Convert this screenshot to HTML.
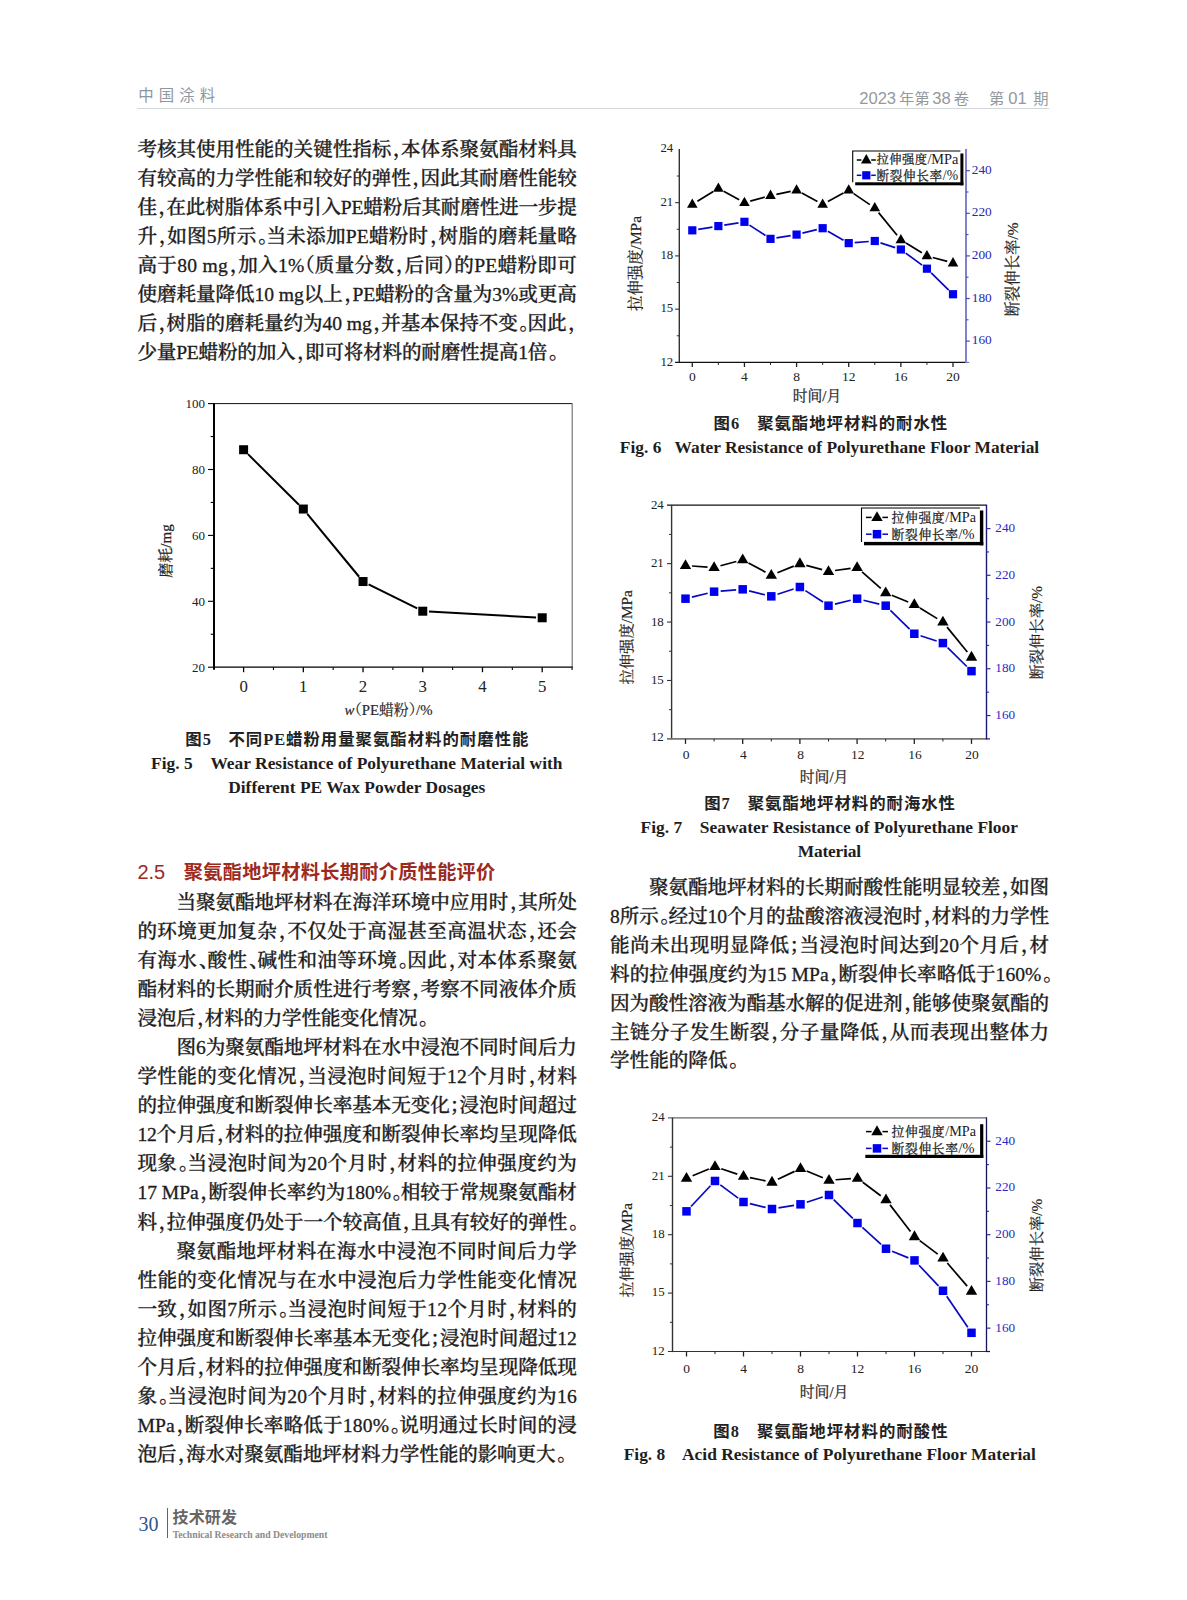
<!DOCTYPE html>
<html lang="zh"><head><meta charset="utf-8"><title>中国涂料 2023年第38卷 第01期</title>
<style>
html,body{margin:0;padding:0;background:#fff}
#pg{position:relative;width:1187px;height:1600px;overflow:hidden;background:#fff;font-family:"Liberation Serif","Noto Serif CJK SC",serif;color:#1c1c1c}
#pg div{position:absolute;white-space:nowrap}
.l{height:29px;line-height:29px;font-size:19.6px;font-weight:500;-webkit-text-stroke:0.3px #1c1c1c}
.p{font-feature-settings:"halt" 1;position:relative;left:1.8px}
.q{font-feature-settings:"halt" 1}
.hd{font-family:"Liberation Sans","Noto Sans CJK SC",sans-serif}
.cc{height:24px;line-height:24px;font-family:"Liberation Serif","Noto Sans CJK SC",sans-serif;font-size:16.4px;font-weight:700;color:#222}
.ce{height:24px;line-height:24px;font-family:"Liberation Serif",serif;font-size:17.4px;font-weight:700;color:#1e1e1e}
.g{display:inline-block}
.hc{font-size:15.3px}
svg text{font-family:"Liberation Serif","Noto Serif CJK SC",serif}
</style></head>
<body><div id="pg">
<div class="hd" style="left:138.2px;top:85px;height:22px;line-height:22px;font-size:15.4px;letter-spacing:5.1px;color:#8d979f">中国涂料</div>
<div class="hd" style="left:859.2px;top:87.6px;height:22px;line-height:22px;font-size:16.6px;color:#94999e">2023<span class="hc" style="margin:0 2.6px 0 3px">年第</span>38<span class="hc" style="margin:0 0 0 3.0px">卷</span><span class="g" style="width:19.9px"></span><span class="hc">第</span><span style="word-spacing:-0.7px"> </span>01<span style="word-spacing:2.0px"> </span><span class="hc">期</span></div>
<div style="left:137px;top:107.5px;width:912px;height:1.2px;background:#d3d7da"></div>
<div class="l" style="left:137.4px;top:134.7px;letter-spacing:-0.066px;"><span id="L0">考核其使用性能的关键性指标<span class="p">，</span>本体系聚氨酯材料具</span></div>
<div class="l" style="left:137.4px;top:163.7px;letter-spacing:-0.066px;"><span id="L1">有较高的力学性能和较好的弹性<span class="p">，</span>因此其耐磨性能较</span></div>
<div class="l" style="left:137.4px;top:192.7px;letter-spacing:-0.206px;"><span id="L2">佳<span class="p">，</span>在此树脂体系中引入PE蜡粉后其耐磨性进一步提</span></div>
<div class="l" style="left:137.4px;top:221.7px;letter-spacing:0.211px;"><span id="L3">升<span class="p">，</span>如图5所示<span class="p">。</span>当未添加PE蜡粉时<span class="p">，</span>树脂的磨耗量略</span></div>
<div class="l" style="left:137.4px;top:250.7px;letter-spacing:0.288px;"><span id="L4">高于80 mg<span class="p">，</span>加入1%<span class="q">（</span>质量分数<span class="p">，</span>后同<span class="q">）</span>的PE蜡粉即可</span></div>
<div class="l" style="left:137.4px;top:279.7px;letter-spacing:-0.077px;"><span id="L5">使磨耗量降低10 mg以上<span class="p">，</span>PE蜡粉的含量为3%或更高</span></div>
<div class="l" style="left:137.4px;top:308.7px;letter-spacing:-0.100px;"><span id="L6">后<span class="p">，</span>树脂的磨耗量约为40 mg<span class="p">，</span>并基本保持不变<span class="p">。</span>因此<span class="p">，</span></span></div>
<div class="l" style="left:137.4px;top:337.7px;letter-spacing:-0.215px;"><span id="L7">少量PE蜡粉的加入<span class="p">，</span>即可将材料的耐磨性提高1倍<span class="p">。</span></span></div>
<div class="l" style="left:176.4px;top:887.5px;letter-spacing:-0.064px;"><span id="L8">当聚氨酯地坪材料在海洋环境中应用时<span class="p">，</span>其所处</span></div>
<div class="l" style="left:137.4px;top:916.6px;letter-spacing:0.379px;"><span id="L9">的环境更加复杂<span class="p">，</span>不仅处于高湿甚至高温状态<span class="p">，</span>还会</span></div>
<div class="l" style="left:137.4px;top:945.7px;letter-spacing:0.362px;"><span id="L10">有海水<span class="p">、</span>酸性<span class="p">、</span>碱性和油等环境<span class="p">。</span>因此<span class="p">，</span>对本体系聚氨</span></div>
<div class="l" style="left:137.4px;top:974.8px;letter-spacing:-0.066px;"><span id="L11">酯材料的长期耐介质性进行考察<span class="p">，</span>考察不同液体介质</span></div>
<div class="l" style="left:137.4px;top:1003.9px;letter-spacing:-0.280px;"><span id="L12">浸泡后<span class="p">，</span>材料的力学性能变化情况<span class="p">。</span></span></div>
<div class="l" style="left:176.4px;top:1033.0px;letter-spacing:-0.064px;"><span id="L13">图6为聚氨酯地坪材料在水中浸泡不同时间后力</span></div>
<div class="l" style="left:137.4px;top:1062.0px;letter-spacing:0.362px;"><span id="L14">学性能的变化情况<span class="p">，</span>当浸泡时间短于12个月时<span class="p">，</span>材料</span></div>
<div class="l" style="left:137.4px;top:1091.1px;letter-spacing:-0.066px;"><span id="L15">的拉伸强度和断裂伸长率基本无变化<span class="q">；</span>浸泡时间超过</span></div>
<div class="l" style="left:137.4px;top:1120.2px;letter-spacing:-0.063px;"><span id="L16">12个月后<span class="p">，</span>材料的拉伸强度和断裂伸长率均呈现降低</span></div>
<div class="l" style="left:137.4px;top:1149.3px;letter-spacing:0.362px;"><span id="L17">现象<span class="p">。</span>当浸泡时间为20个月时<span class="p">，</span>材料的拉伸强度约为</span></div>
<div class="l" style="left:137.4px;top:1178.4px;letter-spacing:-0.034px;"><span id="L18">17 MPa<span class="p">，</span>断裂伸长率约为180%<span class="p">。</span>相较于常规聚氨酯材</span></div>
<div class="l" style="left:137.4px;top:1207.5px;letter-spacing:-0.046px;"><span id="L19">料<span class="p">，</span>拉伸强度仍处于一个较高值<span class="p">，</span>且具有较好的弹性<span class="p">。</span></span></div>
<div class="l" style="left:176.4px;top:1236.6px;letter-spacing:0.449px;"><span id="L20">聚氨酯地坪材料在海水中浸泡不同时间后力学</span></div>
<div class="l" style="left:137.4px;top:1265.7px;letter-spacing:0.397px;"><span id="L21">性能的变化情况与在水中浸泡后力学性能变化情况</span></div>
<div class="l" style="left:137.4px;top:1294.8px;letter-spacing:0.347px;"><span id="L22">一致<span class="p">，</span>如图7所示<span class="p">。</span>当浸泡时间短于12个月时<span class="p">，</span>材料的</span></div>
<div class="l" style="left:137.4px;top:1323.8px;letter-spacing:-0.063px;"><span id="L23">拉伸强度和断裂伸长率基本无变化<span class="q">；</span>浸泡时间超过12</span></div>
<div class="l" style="left:137.4px;top:1352.9px;letter-spacing:-0.066px;"><span id="L24">个月后<span class="p">，</span>材料的拉伸强度和断裂伸长率均呈现降低现</span></div>
<div class="l" style="left:137.4px;top:1382.0px;letter-spacing:0.347px;"><span id="L25">象<span class="p">。</span>当浸泡时间为20个月时<span class="p">，</span>材料的拉伸强度约为16</span></div>
<div class="l" style="left:137.4px;top:1411.1px;letter-spacing:0.158px;"><span id="L26">MPa<span class="p">，</span>断裂伸长率略低于180%<span class="p">。</span>说明通过长时间的浸</span></div>
<div class="l" style="left:137.4px;top:1440.2px;letter-spacing:-0.148px;"><span id="L27">泡后<span class="p">，</span>海水对聚氨酯地坪材料力学性能的影响更大<span class="p">。</span></span></div>
<div class="l" style="left:649.0px;top:872.7px;letter-spacing:-0.084px;"><span id="L28">聚氨酯地坪材料的长期耐酸性能明显较差<span class="p">，</span>如图</span></div>
<div class="l" style="left:610.0px;top:901.7px;letter-spacing:-0.077px;"><span id="L29">8所示<span class="p">。</span>经过10个月的盐酸溶液浸泡时<span class="p">，</span>材料的力学性</span></div>
<div class="l" style="left:610.0px;top:930.6px;letter-spacing:0.345px;"><span id="L30">能尚未出现明显降低<span class="q">；</span>当浸泡时间达到20个月后<span class="p">，</span>材</span></div>
<div class="l" style="left:610.0px;top:959.6px;letter-spacing:0.032px;"><span id="L31">料的拉伸强度约为15 MPa<span class="p">，</span>断裂伸长率略低于160%<span class="p">。</span></span></div>
<div class="l" style="left:610.0px;top:988.5px;letter-spacing:-0.085px;"><span id="L32">因为酸性溶液为酯基水解的促进剂<span class="p">，</span>能够使聚氨酯的</span></div>
<div class="l" style="left:610.0px;top:1017.5px;letter-spacing:0.361px;"><span id="L33">主链分子发生断裂<span class="p">，</span>分子量降低<span class="p">，</span>从而表现出整体力</span></div>
<div class="l" style="left:610.0px;top:1046.4px;"><span id="L34">学性能的降低<span class="p">。</span></span></div>
<div class="cc" style="left:185.3px;top:727.7px;letter-spacing:0.990px;"><span id="L35">图5<span class="g" style="width:16.5px"></span>不同PE蜡粉用量聚氨酯材料的耐磨性能</span></div>
<div class="ce" style="left:151.1px;top:751.3px;"><span id="L36">Fig. 5</span></div>
<div class="ce" style="left:210.4px;top:751.3px;letter-spacing:0.014px;"><span id="L37">Wear Resistance of Polyurethane Material with</span></div>
<div class="ce" style="left:228.2px;top:774.5px;letter-spacing:0.007px;"><span id="L38">Different PE Wax Powder Dosages</span></div>
<div class="cc" style="left:713.6px;top:412.2px;letter-spacing:0.976px;"><span id="L39">图6<span class="g" style="width:17.0px"></span>聚氨酯地坪材料的耐水性</span></div>
<div class="ce" style="left:619.8px;top:435.1px;"><span id="L40">Fig. 6</span></div>
<div class="ce" style="left:674.6px;top:435.1px;letter-spacing:-0.001px;"><span id="L41">Water Resistance of Polyurethane Floor Material</span></div>
<div class="cc" style="left:704.2px;top:792.0px;letter-spacing:0.963px;"><span id="L42">图7<span class="g" style="width:17.0px"></span>聚氨酯地坪材料的耐海水性</span></div>
<div class="ce" style="left:640.6px;top:815.2px;"><span id="L43">Fig. 7</span></div>
<div class="ce" style="left:699.8px;top:815.2px;letter-spacing:0.001px;"><span id="L44">Seawater Resistance of Polyurethane Floor</span></div>
<div class="ce" style="left:797.8px;top:839.2px;letter-spacing:-0.215px;"><span id="L45">Material</span></div>
<div class="cc" style="left:713.2px;top:1420.1px;letter-spacing:1.051px;"><span id="L46">图8<span class="g" style="width:17.0px"></span>聚氨酯地坪材料的耐酸性</span></div>
<div class="ce" style="left:623.7px;top:1442.3px;"><span id="L47">Fig. 8</span></div>
<div class="ce" style="left:682.0px;top:1442.3px;letter-spacing:0.011px;"><span id="L48">Acid Resistance of Polyurethane Floor Material</span></div>
<div style="left:137.4px;top:857.5px;height:28px;line-height:28px;color:#9c2b1f;font-family:'Liberation Sans','Noto Sans CJK SC',sans-serif;font-size:19.2px"><span style="font-size:20px">2.5</span><span class="g" style="width:18.6px"></span><span id="h25" style="font-weight:700;letter-spacing:0.3px">聚氨酯地坪材料长期耐介质性能评价</span></div>
<div style="left:138.4px;top:1512px;height:24px;line-height:24px;font-size:20px;color:#2f558f">30</div>
<div style="left:166.5px;top:1508.3px;width:1.9px;height:30.2px;background:#3b69ab"></div>
<div style="left:172.6px;top:1505.5px;height:24px;line-height:24px;font-size:16px;font-weight:700;color:#666;font-family:'Liberation Sans','Noto Sans CJK SC',sans-serif;letter-spacing:0.1px">技术研发</div>
<div style="left:172.7px;top:1527.7px;height:14px;line-height:14px;font-size:9.7px;font-weight:700;color:#8b8b8b"><span id="ftr">Technical Research and Development</span></div>
<svg width="1187" height="1600" viewBox="0 0 1187 1600" style="position:absolute;left:0;top:0">
<g id="fig5">
<line x1="214" y1="403.1" x2="214" y2="669.7" stroke="#000" stroke-width="2"/>
<line x1="214" y1="403.6" x2="572.2" y2="403.6" stroke="#111" stroke-width="1"/>
<line x1="572.2" y1="403.6" x2="572.2" y2="667.2" stroke="#777" stroke-width="1.2"/>
<line x1="214" y1="667.2" x2="572.7" y2="667.2" stroke="#000" stroke-width="1.3"/>
<line x1="208" y1="667.2" x2="214" y2="667.2" stroke="#000" stroke-width="1.1"/>
<text x="205" y="671.5" font-size="13" text-anchor="end" fill="#222">20</text>
<line x1="208" y1="601.3" x2="214" y2="601.3" stroke="#000" stroke-width="1.1"/>
<text x="205" y="605.6" font-size="13" text-anchor="end" fill="#222">40</text>
<line x1="208" y1="535.4" x2="214" y2="535.4" stroke="#000" stroke-width="1.1"/>
<text x="205" y="539.7" font-size="13" text-anchor="end" fill="#222">60</text>
<line x1="208" y1="469.5" x2="214" y2="469.5" stroke="#000" stroke-width="1.1"/>
<text x="205" y="473.8" font-size="13" text-anchor="end" fill="#222">80</text>
<line x1="208" y1="403.6" x2="214" y2="403.6" stroke="#000" stroke-width="1.1"/>
<text x="205" y="407.9" font-size="13" text-anchor="end" fill="#222">100</text>
<line x1="210.7" y1="634.25" x2="214" y2="634.25" stroke="#000" stroke-width="1.1"/>
<line x1="210.7" y1="568.35" x2="214" y2="568.35" stroke="#000" stroke-width="1.1"/>
<line x1="210.7" y1="502.45" x2="214" y2="502.45" stroke="#000" stroke-width="1.1"/>
<line x1="210.7" y1="436.55" x2="214" y2="436.55" stroke="#000" stroke-width="1.1"/>
<line x1="243.6" y1="667.2" x2="243.6" y2="672.2" stroke="#000" stroke-width="1.3"/>
<text x="243.6" y="691.6" font-size="16.8" text-anchor="middle" fill="#222">0</text>
<line x1="303.32" y1="667.2" x2="303.32" y2="672.2" stroke="#000" stroke-width="1.3"/>
<text x="303.32" y="691.6" font-size="16.8" text-anchor="middle" fill="#222">1</text>
<line x1="363.04" y1="667.2" x2="363.04" y2="672.2" stroke="#000" stroke-width="1.3"/>
<text x="363.04" y="691.6" font-size="16.8" text-anchor="middle" fill="#222">2</text>
<line x1="422.76" y1="667.2" x2="422.76" y2="672.2" stroke="#000" stroke-width="1.3"/>
<text x="422.76" y="691.6" font-size="16.8" text-anchor="middle" fill="#222">3</text>
<line x1="482.48" y1="667.2" x2="482.48" y2="672.2" stroke="#000" stroke-width="1.3"/>
<text x="482.48" y="691.6" font-size="16.8" text-anchor="middle" fill="#222">4</text>
<line x1="542.2" y1="667.2" x2="542.2" y2="672.2" stroke="#000" stroke-width="1.3"/>
<text x="542.2" y="691.6" font-size="16.8" text-anchor="middle" fill="#222">5</text>
<line x1="273.46" y1="667.2" x2="273.46" y2="670" stroke="#000" stroke-width="1.1"/>
<line x1="333.18" y1="667.2" x2="333.18" y2="670" stroke="#000" stroke-width="1.1"/>
<line x1="392.9" y1="667.2" x2="392.9" y2="670" stroke="#000" stroke-width="1.1"/>
<line x1="452.62" y1="667.2" x2="452.62" y2="670" stroke="#000" stroke-width="1.1"/>
<line x1="512.34" y1="667.2" x2="512.34" y2="670" stroke="#000" stroke-width="1.1"/>
<line x1="572.06" y1="667.2" x2="572.06" y2="670" stroke="#000" stroke-width="1.1"/>
<line x1="248" y1="454.1" x2="298.92" y2="504.67" stroke="#000" stroke-width="2"/>
<line x1="307.26" y1="513.83" x2="359.1" y2="576.74" stroke="#000" stroke-width="2"/>
<line x1="368.59" y1="584.29" x2="417.21" y2="608.43" stroke="#000" stroke-width="2"/>
<line x1="428.95" y1="611.53" x2="536.01" y2="617.43" stroke="#000" stroke-width="2"/>
<rect x="239.1" y="445.23" width="9" height="9" fill="#000"/>
<rect x="298.82" y="504.54" width="9" height="9" fill="#000"/>
<rect x="358.54" y="577.03" width="9" height="9" fill="#000"/>
<rect x="418.26" y="606.69" width="9" height="9" fill="#000"/>
<rect x="537.7" y="613.28" width="9" height="9" fill="#000"/>
<text x="388.5" y="714.8" font-size="14.8" text-anchor="middle" fill="#2a2a2a" stroke="#2a2a2a" stroke-width="0.2"><tspan font-style="italic">w</tspan><tspan style="font-feature-settings:'halt' 1">（</tspan>PE蜡粉<tspan style="font-feature-settings:'halt' 1">）</tspan>/%</text>
<text transform="translate(170.6,551) rotate(-90)" font-size="15" text-anchor="middle" fill="#222" stroke="#222" stroke-width="0.25">磨耗/mg</text>
</g>
<g id="fig6">
<line x1="679.3" y1="149.1" x2="679.3" y2="363" stroke="#333" stroke-width="1.4"/>
<line x1="675.1" y1="362.4" x2="966" y2="362.4" stroke="#111" stroke-width="1.2"/>
<line x1="966" y1="362.4" x2="969.3" y2="362.4" stroke="#7c7cca" stroke-width="1.2"/>
<line x1="966" y1="148.9" x2="966" y2="363" stroke="#7c7cca" stroke-width="1.9"/>
<text x="673.2" y="366" font-size="12.8" text-anchor="end" fill="#222">12</text>
<line x1="675.1" y1="309.15" x2="679.3" y2="309.15" stroke="#333" stroke-width="1.1"/>
<text x="673.2" y="312.15" font-size="12.8" text-anchor="end" fill="#222">15</text>
<line x1="675.1" y1="255.9" x2="679.3" y2="255.9" stroke="#333" stroke-width="1.1"/>
<text x="673.2" y="258.9" font-size="12.8" text-anchor="end" fill="#222">18</text>
<line x1="675.1" y1="202.65" x2="679.3" y2="202.65" stroke="#333" stroke-width="1.1"/>
<text x="673.2" y="205.65" font-size="12.8" text-anchor="end" fill="#222">21</text>
<text x="673.2" y="152.4" font-size="12.8" text-anchor="end" fill="#222">24</text>
<line x1="676.8" y1="335.77" x2="679.3" y2="335.77" stroke="#333" stroke-width="1"/>
<line x1="676.8" y1="282.52" x2="679.3" y2="282.52" stroke="#333" stroke-width="1"/>
<line x1="676.8" y1="229.28" x2="679.3" y2="229.28" stroke="#333" stroke-width="1"/>
<line x1="676.8" y1="176.03" x2="679.3" y2="176.03" stroke="#333" stroke-width="1"/>
<line x1="692.3" y1="362.4" x2="692.3" y2="367" stroke="#222" stroke-width="1.3"/>
<text x="692.3" y="381" font-size="13.5" text-anchor="middle" fill="#222">0</text>
<line x1="744.44" y1="362.4" x2="744.44" y2="367" stroke="#222" stroke-width="1.3"/>
<text x="744.44" y="381" font-size="13.5" text-anchor="middle" fill="#222">4</text>
<line x1="796.58" y1="362.4" x2="796.58" y2="367" stroke="#222" stroke-width="1.3"/>
<text x="796.58" y="381" font-size="13.5" text-anchor="middle" fill="#222">8</text>
<line x1="848.72" y1="362.4" x2="848.72" y2="367" stroke="#222" stroke-width="1.3"/>
<text x="848.72" y="381" font-size="13.5" text-anchor="middle" fill="#222">12</text>
<line x1="900.86" y1="362.4" x2="900.86" y2="367" stroke="#222" stroke-width="1.3"/>
<text x="900.86" y="381" font-size="13.5" text-anchor="middle" fill="#222">16</text>
<line x1="953" y1="362.4" x2="953" y2="367" stroke="#222" stroke-width="1.3"/>
<text x="953" y="381" font-size="13.5" text-anchor="middle" fill="#222">20</text>
<line x1="718.37" y1="362.4" x2="718.37" y2="364.9" stroke="#222" stroke-width="1"/>
<line x1="770.51" y1="362.4" x2="770.51" y2="364.9" stroke="#222" stroke-width="1"/>
<line x1="822.65" y1="362.4" x2="822.65" y2="364.9" stroke="#222" stroke-width="1"/>
<line x1="874.79" y1="362.4" x2="874.79" y2="364.9" stroke="#222" stroke-width="1"/>
<line x1="926.93" y1="362.4" x2="926.93" y2="364.9" stroke="#222" stroke-width="1"/>
<line x1="966" y1="341.1" x2="969.8" y2="341.1" stroke="#4a4abc" stroke-width="1.2"/>
<text x="971.8" y="344.2" font-size="13.3" text-anchor="start" fill="#2828b0">160</text>
<line x1="966" y1="298.5" x2="969.8" y2="298.5" stroke="#4a4abc" stroke-width="1.2"/>
<text x="971.8" y="301.6" font-size="13.3" text-anchor="start" fill="#2828b0">180</text>
<line x1="966" y1="255.9" x2="969.8" y2="255.9" stroke="#4a4abc" stroke-width="1.2"/>
<text x="971.8" y="259" font-size="13.3" text-anchor="start" fill="#2828b0">200</text>
<line x1="966" y1="213.3" x2="969.8" y2="213.3" stroke="#4a4abc" stroke-width="1.2"/>
<text x="971.8" y="216.4" font-size="13.3" text-anchor="start" fill="#2828b0">220</text>
<line x1="966" y1="170.7" x2="969.8" y2="170.7" stroke="#4a4abc" stroke-width="1.2"/>
<text x="971.8" y="173.8" font-size="13.3" text-anchor="start" fill="#2828b0">240</text>
<line x1="966" y1="319.8" x2="968.5" y2="319.8" stroke="#4a4abc" stroke-width="1.1"/>
<line x1="966" y1="277.2" x2="968.5" y2="277.2" stroke="#4a4abc" stroke-width="1.1"/>
<line x1="966" y1="234.6" x2="968.5" y2="234.6" stroke="#4a4abc" stroke-width="1.1"/>
<line x1="966" y1="192" x2="968.5" y2="192" stroke="#4a4abc" stroke-width="1.1"/>
<line x1="698.22" y1="229.37" x2="712.45" y2="227.05" stroke="#0808c0" stroke-width="1.7"/>
<line x1="724.29" y1="225.11" x2="738.52" y2="222.79" stroke="#0808c0" stroke-width="1.7"/>
<line x1="749.46" y1="225.1" x2="765.49" y2="235.58" stroke="#0808c0" stroke-width="1.7"/>
<line x1="776.43" y1="237.89" x2="790.66" y2="235.57" stroke="#0808c0" stroke-width="1.7"/>
<line x1="802.41" y1="233.17" x2="816.82" y2="229.64" stroke="#0808c0" stroke-width="1.7"/>
<line x1="827.86" y1="231.19" x2="843.51" y2="240.14" stroke="#0808c0" stroke-width="1.7"/>
<line x1="854.7" y1="242.63" x2="868.81" y2="241.48" stroke="#0808c0" stroke-width="1.7"/>
<line x1="880.49" y1="242.85" x2="895.16" y2="247.65" stroke="#0808c0" stroke-width="1.7"/>
<line x1="905.69" y1="253.06" x2="922.1" y2="265.13" stroke="#0808c0" stroke-width="1.7"/>
<line x1="931.21" y1="272.88" x2="948.72" y2="290.04" stroke="#0808c0" stroke-width="1.7"/>
<rect x="688.2" y="226.24" width="8.2" height="8.2" fill="#0000f0"/>
<rect x="714.27" y="221.98" width="8.2" height="8.2" fill="#0000f0"/>
<rect x="740.34" y="217.72" width="8.2" height="8.2" fill="#0000f0"/>
<rect x="766.41" y="234.76" width="8.2" height="8.2" fill="#0000f0"/>
<rect x="792.48" y="230.5" width="8.2" height="8.2" fill="#0000f0"/>
<rect x="818.55" y="224.11" width="8.2" height="8.2" fill="#0000f0"/>
<rect x="844.62" y="239.02" width="8.2" height="8.2" fill="#0000f0"/>
<rect x="870.69" y="236.89" width="8.2" height="8.2" fill="#0000f0"/>
<rect x="896.76" y="245.41" width="8.2" height="8.2" fill="#0000f0"/>
<rect x="922.83" y="264.58" width="8.2" height="8.2" fill="#0000f0"/>
<rect x="948.9" y="290.14" width="8.2" height="8.2" fill="#0000f0"/>
<line x1="697.42" y1="201.29" x2="713.25" y2="191.58" stroke="#000" stroke-width="1.7"/>
<line x1="723.64" y1="191.32" x2="739.17" y2="199.78" stroke="#000" stroke-width="1.7"/>
<line x1="750.23" y1="201.07" x2="764.72" y2="197.13" stroke="#000" stroke-width="1.7"/>
<line x1="776.39" y1="194.35" x2="790.7" y2="191.43" stroke="#000" stroke-width="1.7"/>
<line x1="801.85" y1="193.09" x2="817.38" y2="201.56" stroke="#000" stroke-width="1.7"/>
<line x1="827.92" y1="201.56" x2="843.45" y2="193.09" stroke="#000" stroke-width="1.7"/>
<line x1="853.68" y1="193.6" x2="869.83" y2="204.6" stroke="#000" stroke-width="1.7"/>
<line x1="878.58" y1="212.62" x2="897.07" y2="235.28" stroke="#000" stroke-width="1.7"/>
<line x1="905.98" y1="243.06" x2="921.81" y2="252.77" stroke="#000" stroke-width="1.7"/>
<line x1="932.72" y1="257.48" x2="947.21" y2="261.42" stroke="#000" stroke-width="1.7"/>
<polygon points="692.3,198.41 687,207.81 697.6,207.81" fill="#000"/>
<polygon points="718.37,182.43 713.07,191.83 723.67,191.83" fill="#000"/>
<polygon points="744.44,196.63 739.14,206.03 749.74,206.03" fill="#000"/>
<polygon points="770.51,189.53 765.21,198.93 775.81,198.93" fill="#000"/>
<polygon points="796.58,184.21 791.28,193.61 801.88,193.61" fill="#000"/>
<polygon points="822.65,198.41 817.35,207.81 827.95,207.81" fill="#000"/>
<polygon points="848.72,184.21 843.42,193.61 854.02,193.61" fill="#000"/>
<polygon points="874.79,201.96 869.49,211.36 880.09,211.36" fill="#000"/>
<polygon points="900.86,233.91 895.56,243.31 906.16,243.31" fill="#000"/>
<polygon points="926.93,249.88 921.63,259.28 932.23,259.28" fill="#000"/>
<polygon points="953,256.98 947.7,266.38 958.3,266.38" fill="#000"/>
<text x="817" y="401" font-size="14.8" text-anchor="middle" fill="#2a2a2a" stroke="#2a2a2a" stroke-width="0.25">时间/月</text>
<text transform="translate(640.9,263.5) rotate(-90)" font-size="15.4" text-anchor="middle" fill="#222" stroke="#222" stroke-width="0.2">拉伸强度/MPa</text>
<text transform="translate(1018.2,269.5) rotate(-90)" font-size="15.4" text-anchor="middle" fill="#222" stroke="#222" stroke-width="0.2">断裂伸长率/%</text>
<rect x="852.7" y="151" width="110.7" height="34.3" fill="#fff"/>
<path d="M852.7 182.3 V151 H960.4" fill="none" stroke="#000" stroke-width="1.1"/>
<rect x="960.4" y="153.5" width="3" height="31.8" fill="#000"/>
<rect x="855.2" y="182.3" width="108.2" height="3" fill="#000"/>
<line x1="856.8" y1="160" x2="861.4" y2="160" stroke="#000" stroke-width="1.5"/>
<line x1="871.2" y1="160" x2="875.8" y2="160" stroke="#000" stroke-width="1.5"/>
<polygon points="866.3,153.98 861,163.38 871.6,163.38" fill="#000"/>
<text x="876.4" y="164.4" font-size="12.3" fill="#1a1a1a"><tspan letter-spacing="0.45" stroke="#1a1a1a" stroke-width="0.25">拉伸强度</tspan><tspan font-size="14.3">/MPa</tspan></text>
<line x1="856.8" y1="175.3" x2="861.4" y2="175.3" stroke="#0808c0" stroke-width="1.5"/>
<line x1="871.2" y1="175.3" x2="875.8" y2="175.3" stroke="#0808c0" stroke-width="1.5"/>
<rect x="862.2" y="171.2" width="8.2" height="8.2" fill="#0000f0"/>
<text x="876.4" y="179.7" font-size="12.6" fill="#1a1a1a"><tspan letter-spacing="0.7" stroke="#1a1a1a" stroke-width="0.25">断裂伸长率</tspan><tspan font-size="13.7">/%</tspan></text>
</g>
<g id="fig7">
<line x1="667" y1="505.2" x2="986.5" y2="505.2" stroke="#111" stroke-width="1.2"/>
<line x1="671.6" y1="504.9" x2="671.6" y2="739.5" stroke="#333" stroke-width="1.4"/>
<line x1="667" y1="738.9" x2="986.5" y2="738.9" stroke="#777" stroke-width="1.6"/>
<line x1="986.5" y1="738.9" x2="990" y2="738.9" stroke="#1a1a78" stroke-width="1.2"/>
<line x1="986.5" y1="504.7" x2="986.5" y2="739.5" stroke="#1a1a78" stroke-width="1.4"/>
<text x="663.8" y="740.5" font-size="12.9" text-anchor="end" fill="#222">12</text>
<line x1="667" y1="680.48" x2="671.6" y2="680.48" stroke="#333" stroke-width="1.1"/>
<text x="663.8" y="684.08" font-size="12.9" text-anchor="end" fill="#222">15</text>
<line x1="667" y1="622.05" x2="671.6" y2="622.05" stroke="#333" stroke-width="1.1"/>
<text x="663.8" y="625.65" font-size="12.9" text-anchor="end" fill="#222">18</text>
<line x1="667" y1="563.62" x2="671.6" y2="563.62" stroke="#333" stroke-width="1.1"/>
<text x="663.8" y="567.23" font-size="12.9" text-anchor="end" fill="#222">21</text>
<text x="663.8" y="508.8" font-size="12.9" text-anchor="end" fill="#222">24</text>
<line x1="669" y1="709.69" x2="671.6" y2="709.69" stroke="#333" stroke-width="1"/>
<line x1="669" y1="651.26" x2="671.6" y2="651.26" stroke="#333" stroke-width="1"/>
<line x1="669" y1="592.84" x2="671.6" y2="592.84" stroke="#333" stroke-width="1"/>
<line x1="669" y1="534.41" x2="671.6" y2="534.41" stroke="#333" stroke-width="1"/>
<line x1="685.5" y1="738.9" x2="685.5" y2="743.9" stroke="#222" stroke-width="1.3"/>
<text x="686.1" y="759" font-size="13.5" text-anchor="middle" fill="#222">0</text>
<line x1="742.7" y1="738.9" x2="742.7" y2="743.9" stroke="#222" stroke-width="1.3"/>
<text x="743.3" y="759" font-size="13.5" text-anchor="middle" fill="#222">4</text>
<line x1="799.9" y1="738.9" x2="799.9" y2="743.9" stroke="#222" stroke-width="1.3"/>
<text x="800.5" y="759" font-size="13.5" text-anchor="middle" fill="#222">8</text>
<line x1="857.1" y1="738.9" x2="857.1" y2="743.9" stroke="#222" stroke-width="1.3"/>
<text x="857.7" y="759" font-size="13.5" text-anchor="middle" fill="#222">12</text>
<line x1="914.3" y1="738.9" x2="914.3" y2="743.9" stroke="#222" stroke-width="1.3"/>
<text x="914.9" y="759" font-size="13.5" text-anchor="middle" fill="#222">16</text>
<line x1="971.5" y1="738.9" x2="971.5" y2="743.9" stroke="#222" stroke-width="1.3"/>
<text x="972.1" y="759" font-size="13.5" text-anchor="middle" fill="#222">20</text>
<line x1="714.1" y1="738.9" x2="714.1" y2="741.5" stroke="#222" stroke-width="1"/>
<line x1="771.3" y1="738.9" x2="771.3" y2="741.5" stroke="#222" stroke-width="1"/>
<line x1="828.5" y1="738.9" x2="828.5" y2="741.5" stroke="#222" stroke-width="1"/>
<line x1="885.7" y1="738.9" x2="885.7" y2="741.5" stroke="#222" stroke-width="1"/>
<line x1="942.9" y1="738.9" x2="942.9" y2="741.5" stroke="#222" stroke-width="1"/>
<line x1="986.5" y1="715.53" x2="990.5" y2="715.53" stroke="#2c2cb0" stroke-width="1.2"/>
<text x="995.3" y="719.03" font-size="13.2" text-anchor="start" fill="#2a2ac4">160</text>
<line x1="986.5" y1="668.79" x2="990.5" y2="668.79" stroke="#2c2cb0" stroke-width="1.2"/>
<text x="995.3" y="672.29" font-size="13.2" text-anchor="start" fill="#2a2ac4">180</text>
<line x1="986.5" y1="622.05" x2="990.5" y2="622.05" stroke="#2c2cb0" stroke-width="1.2"/>
<text x="995.3" y="625.55" font-size="13.2" text-anchor="start" fill="#2a2ac4">200</text>
<line x1="986.5" y1="575.31" x2="990.5" y2="575.31" stroke="#2c2cb0" stroke-width="1.2"/>
<text x="995.3" y="578.81" font-size="13.2" text-anchor="start" fill="#2a2ac4">220</text>
<line x1="986.5" y1="528.57" x2="990.5" y2="528.57" stroke="#2c2cb0" stroke-width="1.2"/>
<text x="995.3" y="532.07" font-size="13.2" text-anchor="start" fill="#2a2ac4">240</text>
<line x1="986.5" y1="692.16" x2="989.1" y2="692.16" stroke="#2c2cb0" stroke-width="1.1"/>
<line x1="986.5" y1="645.42" x2="989.1" y2="645.42" stroke="#2c2cb0" stroke-width="1.1"/>
<line x1="986.5" y1="598.68" x2="989.1" y2="598.68" stroke="#2c2cb0" stroke-width="1.1"/>
<line x1="986.5" y1="551.94" x2="989.1" y2="551.94" stroke="#2c2cb0" stroke-width="1.1"/>
<line x1="691.91" y1="597.11" x2="707.69" y2="593.24" stroke="#0808c0" stroke-width="1.7"/>
<line x1="720.68" y1="591.13" x2="736.12" y2="589.87" stroke="#0808c0" stroke-width="1.7"/>
<line x1="749.11" y1="590.9" x2="764.89" y2="594.77" stroke="#0808c0" stroke-width="1.7"/>
<line x1="777.57" y1="594.29" x2="793.63" y2="589.05" stroke="#0808c0" stroke-width="1.7"/>
<line x1="805.42" y1="590.61" x2="822.98" y2="602.08" stroke="#0808c0" stroke-width="1.7"/>
<line x1="834.91" y1="604.12" x2="850.69" y2="600.25" stroke="#0808c0" stroke-width="1.7"/>
<line x1="863.51" y1="600.25" x2="879.29" y2="604.12" stroke="#0808c0" stroke-width="1.7"/>
<line x1="890.41" y1="610.31" x2="909.59" y2="629.11" stroke="#0808c0" stroke-width="1.7"/>
<line x1="920.57" y1="635.79" x2="936.63" y2="641.03" stroke="#0808c0" stroke-width="1.7"/>
<line x1="947.61" y1="647.7" x2="966.79" y2="666.51" stroke="#0808c0" stroke-width="1.7"/>
<rect x="681.25" y="594.43" width="8.5" height="8.5" fill="#0000f0"/>
<rect x="709.85" y="587.42" width="8.5" height="8.5" fill="#0000f0"/>
<rect x="738.45" y="585.08" width="8.5" height="8.5" fill="#0000f0"/>
<rect x="767.05" y="592.09" width="8.5" height="8.5" fill="#0000f0"/>
<rect x="795.65" y="582.75" width="8.5" height="8.5" fill="#0000f0"/>
<rect x="824.25" y="601.44" width="8.5" height="8.5" fill="#0000f0"/>
<rect x="852.85" y="594.43" width="8.5" height="8.5" fill="#0000f0"/>
<rect x="881.45" y="601.44" width="8.5" height="8.5" fill="#0000f0"/>
<rect x="910.05" y="629.49" width="8.5" height="8.5" fill="#0000f0"/>
<rect x="938.65" y="638.83" width="8.5" height="8.5" fill="#0000f0"/>
<rect x="967.25" y="666.88" width="8.5" height="8.5" fill="#0000f0"/>
<line x1="692.08" y1="566.02" x2="707.52" y2="567.07" stroke="#000" stroke-width="1.7"/>
<line x1="720.47" y1="565.79" x2="736.33" y2="561.46" stroke="#000" stroke-width="1.7"/>
<line x1="748.5" y1="562.89" x2="765.5" y2="572.15" stroke="#000" stroke-width="1.7"/>
<line x1="777.41" y1="572.81" x2="793.79" y2="566.12" stroke="#000" stroke-width="1.7"/>
<line x1="806.27" y1="565.36" x2="822.13" y2="569.68" stroke="#000" stroke-width="1.7"/>
<line x1="835.04" y1="570.52" x2="850.56" y2="568.41" stroke="#000" stroke-width="1.7"/>
<line x1="862.04" y1="571.89" x2="880.76" y2="588.46" stroke="#000" stroke-width="1.7"/>
<line x1="891.81" y1="595.33" x2="908.19" y2="602.03" stroke="#000" stroke-width="1.7"/>
<line x1="919.93" y1="607.97" x2="937.27" y2="618.6" stroke="#000" stroke-width="1.7"/>
<line x1="947.07" y1="627.16" x2="967.33" y2="651.99" stroke="#000" stroke-width="1.7"/>
<polygon points="685.5,559.3 679.8,569.1 691.2,569.1" fill="#000"/>
<polygon points="714.1,561.25 708.4,571.05 719.8,571.05" fill="#000"/>
<polygon points="742.7,553.46 737,563.26 748.4,563.26" fill="#000"/>
<polygon points="771.3,569.04 765.6,578.84 777,578.84" fill="#000"/>
<polygon points="799.9,557.35 794.2,567.15 805.6,567.15" fill="#000"/>
<polygon points="828.5,565.14 822.8,574.94 834.2,574.94" fill="#000"/>
<polygon points="857.1,561.25 851.4,571.05 862.8,571.05" fill="#000"/>
<polygon points="885.7,586.57 880,596.37 891.4,596.37" fill="#000"/>
<polygon points="914.3,598.25 908.6,608.05 920,608.05" fill="#000"/>
<polygon points="942.9,615.78 937.2,625.58 948.6,625.58" fill="#000"/>
<polygon points="971.5,650.83 965.8,660.63 977.2,660.63" fill="#000"/>
<text x="824.1" y="782.2" font-size="14.9" text-anchor="middle" fill="#2a2a2a" stroke="#2a2a2a" stroke-width="0.25">时间/月</text>
<text transform="translate(631.8,637.3) rotate(-90)" font-size="15.3" text-anchor="middle" fill="#222" stroke="#222" stroke-width="0.2">拉伸强度/MPa</text>
<text transform="translate(1041.8,632.8) rotate(-90)" font-size="15.3" text-anchor="middle" fill="#222" stroke="#222" stroke-width="0.2">断裂伸长率/%</text>
<rect x="861.5" y="508" width="121.8" height="37.3" fill="#fff"/>
<path d="M861.5 541.9 V508 H979.9" fill="none" stroke="#000" stroke-width="1.1"/>
<rect x="979.9" y="510.5" width="3.4" height="34.8" fill="#000"/>
<rect x="864" y="541.9" width="119.3" height="3.4" fill="#000"/>
<line x1="866" y1="517.4" x2="871.6" y2="517.4" stroke="#000" stroke-width="1.5"/>
<line x1="882.4" y1="517.4" x2="888" y2="517.4" stroke="#000" stroke-width="1.5"/>
<polygon points="877,511.13 871.3,520.93 882.7,520.93" fill="#000"/>
<text x="891.6" y="522" font-size="12.8" fill="#1a1a1a"><tspan letter-spacing="0.6" stroke="#1a1a1a" stroke-width="0.25">拉伸强度</tspan><tspan font-size="14.2">/MPa</tspan></text>
<line x1="866" y1="534.2" x2="871.6" y2="534.2" stroke="#0808c0" stroke-width="1.5"/>
<line x1="882.4" y1="534.2" x2="888" y2="534.2" stroke="#0808c0" stroke-width="1.5"/>
<rect x="872.75" y="529.95" width="8.5" height="8.5" fill="#0000f0"/>
<text x="891.6" y="538.8" font-size="12.8" fill="#1a1a1a"><tspan letter-spacing="0.6" stroke="#1a1a1a" stroke-width="0.25">断裂伸长率</tspan><tspan font-size="14.4">/%</tspan></text>
</g>
<g id="fig8">
<line x1="667.9" y1="1117.9" x2="986.5" y2="1117.9" stroke="#666" stroke-width="1.2"/>
<line x1="672.5" y1="1117.6" x2="672.5" y2="1352.1" stroke="#333" stroke-width="1.4"/>
<line x1="667.9" y1="1351.5" x2="986.5" y2="1351.5" stroke="#333" stroke-width="1.2"/>
<line x1="986.5" y1="1351.5" x2="990" y2="1351.5" stroke="#14145a" stroke-width="1.2"/>
<line x1="986.5" y1="1117.4" x2="986.5" y2="1352.1" stroke="#14145a" stroke-width="1.3"/>
<text x="664.7" y="1354.8" font-size="12.9" text-anchor="end" fill="#222">12</text>
<line x1="667.9" y1="1293.1" x2="672.5" y2="1293.1" stroke="#333" stroke-width="1.1"/>
<text x="664.7" y="1296.4" font-size="12.9" text-anchor="end" fill="#222">15</text>
<line x1="667.9" y1="1234.7" x2="672.5" y2="1234.7" stroke="#333" stroke-width="1.1"/>
<text x="664.7" y="1238" font-size="12.9" text-anchor="end" fill="#222">18</text>
<line x1="667.9" y1="1176.3" x2="672.5" y2="1176.3" stroke="#333" stroke-width="1.1"/>
<text x="664.7" y="1179.6" font-size="12.9" text-anchor="end" fill="#222">21</text>
<text x="664.7" y="1121.2" font-size="12.9" text-anchor="end" fill="#222">24</text>
<line x1="669.9" y1="1322.3" x2="672.5" y2="1322.3" stroke="#333" stroke-width="1"/>
<line x1="669.9" y1="1263.9" x2="672.5" y2="1263.9" stroke="#333" stroke-width="1"/>
<line x1="669.9" y1="1205.5" x2="672.5" y2="1205.5" stroke="#333" stroke-width="1"/>
<line x1="669.9" y1="1147.1" x2="672.5" y2="1147.1" stroke="#333" stroke-width="1"/>
<line x1="686.5" y1="1351.5" x2="686.5" y2="1356.5" stroke="#222" stroke-width="1.3"/>
<text x="686.5" y="1372.8" font-size="13.5" text-anchor="middle" fill="#222">0</text>
<line x1="743.5" y1="1351.5" x2="743.5" y2="1356.5" stroke="#222" stroke-width="1.3"/>
<text x="743.5" y="1372.8" font-size="13.5" text-anchor="middle" fill="#222">4</text>
<line x1="800.5" y1="1351.5" x2="800.5" y2="1356.5" stroke="#222" stroke-width="1.3"/>
<text x="800.5" y="1372.8" font-size="13.5" text-anchor="middle" fill="#222">8</text>
<line x1="857.5" y1="1351.5" x2="857.5" y2="1356.5" stroke="#222" stroke-width="1.3"/>
<text x="857.5" y="1372.8" font-size="13.5" text-anchor="middle" fill="#222">12</text>
<line x1="914.5" y1="1351.5" x2="914.5" y2="1356.5" stroke="#222" stroke-width="1.3"/>
<text x="914.5" y="1372.8" font-size="13.5" text-anchor="middle" fill="#222">16</text>
<line x1="971.5" y1="1351.5" x2="971.5" y2="1356.5" stroke="#222" stroke-width="1.3"/>
<text x="971.5" y="1372.8" font-size="13.5" text-anchor="middle" fill="#222">20</text>
<line x1="715" y1="1351.5" x2="715" y2="1354.1" stroke="#222" stroke-width="1"/>
<line x1="772" y1="1351.5" x2="772" y2="1354.1" stroke="#222" stroke-width="1"/>
<line x1="829" y1="1351.5" x2="829" y2="1354.1" stroke="#222" stroke-width="1"/>
<line x1="886" y1="1351.5" x2="886" y2="1354.1" stroke="#222" stroke-width="1"/>
<line x1="943" y1="1351.5" x2="943" y2="1354.1" stroke="#222" stroke-width="1"/>
<line x1="986.5" y1="1328.14" x2="990.5" y2="1328.14" stroke="#2c2cb0" stroke-width="1.2"/>
<text x="995.3" y="1331.64" font-size="13.2" text-anchor="start" fill="#2a2ac4">160</text>
<line x1="986.5" y1="1281.42" x2="990.5" y2="1281.42" stroke="#2c2cb0" stroke-width="1.2"/>
<text x="995.3" y="1284.92" font-size="13.2" text-anchor="start" fill="#2a2ac4">180</text>
<line x1="986.5" y1="1234.7" x2="990.5" y2="1234.7" stroke="#2c2cb0" stroke-width="1.2"/>
<text x="995.3" y="1238.2" font-size="13.2" text-anchor="start" fill="#2a2ac4">200</text>
<line x1="986.5" y1="1187.98" x2="990.5" y2="1187.98" stroke="#2c2cb0" stroke-width="1.2"/>
<text x="995.3" y="1191.48" font-size="13.2" text-anchor="start" fill="#2a2ac4">220</text>
<line x1="986.5" y1="1141.26" x2="990.5" y2="1141.26" stroke="#2c2cb0" stroke-width="1.2"/>
<text x="995.3" y="1144.76" font-size="13.2" text-anchor="start" fill="#2a2ac4">240</text>
<line x1="986.5" y1="1304.78" x2="989.1" y2="1304.78" stroke="#2c2cb0" stroke-width="1.1"/>
<line x1="986.5" y1="1258.06" x2="989.1" y2="1258.06" stroke="#2c2cb0" stroke-width="1.1"/>
<line x1="986.5" y1="1211.34" x2="989.1" y2="1211.34" stroke="#2c2cb0" stroke-width="1.1"/>
<line x1="986.5" y1="1164.62" x2="989.1" y2="1164.62" stroke="#2c2cb0" stroke-width="1.1"/>
<line x1="691.02" y1="1206.53" x2="710.48" y2="1185.78" stroke="#0808c0" stroke-width="1.7"/>
<line x1="720.31" y1="1184.89" x2="738.19" y2="1198.08" stroke="#0808c0" stroke-width="1.7"/>
<line x1="749.91" y1="1203.57" x2="765.59" y2="1207.43" stroke="#0808c0" stroke-width="1.7"/>
<line x1="778.51" y1="1207.94" x2="793.99" y2="1205.4" stroke="#0808c0" stroke-width="1.7"/>
<line x1="806.77" y1="1202.28" x2="822.73" y2="1197.04" stroke="#0808c0" stroke-width="1.7"/>
<line x1="833.71" y1="1199.62" x2="852.79" y2="1218.39" stroke="#0808c0" stroke-width="1.7"/>
<line x1="862.4" y1="1227.44" x2="881.1" y2="1244.3" stroke="#0808c0" stroke-width="1.7"/>
<line x1="892.11" y1="1251.22" x2="908.39" y2="1257.89" stroke="#0808c0" stroke-width="1.7"/>
<line x1="919.02" y1="1265.21" x2="938.48" y2="1285.95" stroke="#0808c0" stroke-width="1.7"/>
<line x1="946.7" y1="1296.23" x2="967.8" y2="1327.35" stroke="#0808c0" stroke-width="1.7"/>
<rect x="682.25" y="1207.09" width="8.5" height="8.5" fill="#0000f0"/>
<rect x="710.75" y="1176.72" width="8.5" height="8.5" fill="#0000f0"/>
<rect x="739.25" y="1197.75" width="8.5" height="8.5" fill="#0000f0"/>
<rect x="767.75" y="1204.75" width="8.5" height="8.5" fill="#0000f0"/>
<rect x="796.25" y="1200.08" width="8.5" height="8.5" fill="#0000f0"/>
<rect x="824.75" y="1190.74" width="8.5" height="8.5" fill="#0000f0"/>
<rect x="853.25" y="1218.77" width="8.5" height="8.5" fill="#0000f0"/>
<rect x="881.75" y="1244.47" width="8.5" height="8.5" fill="#0000f0"/>
<rect x="910.25" y="1256.15" width="8.5" height="8.5" fill="#0000f0"/>
<rect x="938.75" y="1286.51" width="8.5" height="8.5" fill="#0000f0"/>
<rect x="967.25" y="1328.56" width="8.5" height="8.5" fill="#0000f0"/>
<line x1="692.61" y1="1175.74" x2="708.89" y2="1169.07" stroke="#000" stroke-width="1.7"/>
<line x1="721.25" y1="1168.7" x2="737.25" y2="1174.17" stroke="#000" stroke-width="1.7"/>
<line x1="749.97" y1="1177.62" x2="765.53" y2="1180.82" stroke="#000" stroke-width="1.7"/>
<line x1="777.95" y1="1179.29" x2="794.55" y2="1171.36" stroke="#000" stroke-width="1.7"/>
<line x1="806.61" y1="1171.02" x2="822.89" y2="1177.69" stroke="#000" stroke-width="1.7"/>
<line x1="835.58" y1="1179.74" x2="850.92" y2="1178.7" stroke="#000" stroke-width="1.7"/>
<line x1="862.78" y1="1182.21" x2="880.72" y2="1195.7" stroke="#000" stroke-width="1.7"/>
<line x1="890.03" y1="1204.89" x2="910.47" y2="1231.42" stroke="#000" stroke-width="1.7"/>
<line x1="919.78" y1="1240.61" x2="937.72" y2="1254.1" stroke="#000" stroke-width="1.7"/>
<line x1="947.31" y1="1263.06" x2="967.19" y2="1286.15" stroke="#000" stroke-width="1.7"/>
<polygon points="686.5,1171.97 680.8,1181.77 692.2,1181.77" fill="#000"/>
<polygon points="715,1160.29 709.3,1170.09 720.7,1170.09" fill="#000"/>
<polygon points="743.5,1170.03 737.8,1179.83 749.2,1179.83" fill="#000"/>
<polygon points="772,1175.87 766.3,1185.67 777.7,1185.67" fill="#000"/>
<polygon points="800.5,1162.24 794.8,1172.04 806.2,1172.04" fill="#000"/>
<polygon points="829,1173.92 823.3,1183.72 834.7,1183.72" fill="#000"/>
<polygon points="857.5,1171.97 851.8,1181.77 863.2,1181.77" fill="#000"/>
<polygon points="886,1193.39 880.3,1203.19 891.7,1203.19" fill="#000"/>
<polygon points="914.5,1230.37 908.8,1240.17 920.2,1240.17" fill="#000"/>
<polygon points="943,1251.79 937.3,1261.59 948.7,1261.59" fill="#000"/>
<polygon points="971.5,1284.88 965.8,1294.68 977.2,1294.68" fill="#000"/>
<text x="824.1" y="1396.6" font-size="14.9" text-anchor="middle" fill="#2a2a2a" stroke="#2a2a2a" stroke-width="0.25">时间/月</text>
<text transform="translate(631.8,1250) rotate(-90)" font-size="15.3" text-anchor="middle" fill="#222" stroke="#222" stroke-width="0.2">拉伸强度/MPa</text>
<text transform="translate(1041.8,1245.5) rotate(-90)" font-size="15.3" text-anchor="middle" fill="#222" stroke="#222" stroke-width="0.2">断裂伸长率/%</text>
<rect x="865.3" y="1121" width="118" height="37" fill="#fff"/>
<rect x="980.1" y="1124.2" width="3.2" height="33.8" fill="#000"/>
<rect x="865.3" y="1154.8" width="118" height="3.2" fill="#000"/>
<line x1="866" y1="1131.6" x2="871.6" y2="1131.6" stroke="#000" stroke-width="1.5"/>
<line x1="882.4" y1="1131.6" x2="888" y2="1131.6" stroke="#000" stroke-width="1.5"/>
<polygon points="877,1125.33 871.3,1135.13 882.7,1135.13" fill="#000"/>
<text x="891.6" y="1136.2" font-size="12.8" fill="#1a1a1a"><tspan letter-spacing="0.6" stroke="#1a1a1a" stroke-width="0.25">拉伸强度</tspan><tspan font-size="14.2">/MPa</tspan></text>
<line x1="866" y1="1148.4" x2="871.6" y2="1148.4" stroke="#0808c0" stroke-width="1.5"/>
<line x1="882.4" y1="1148.4" x2="888" y2="1148.4" stroke="#0808c0" stroke-width="1.5"/>
<rect x="872.75" y="1144.15" width="8.5" height="8.5" fill="#0000f0"/>
<text x="891.6" y="1153" font-size="12.8" fill="#1a1a1a"><tspan letter-spacing="0.6" stroke="#1a1a1a" stroke-width="0.25">断裂伸长率</tspan><tspan font-size="14.4">/%</tspan></text>
</g>
</svg>
</div></body></html>
